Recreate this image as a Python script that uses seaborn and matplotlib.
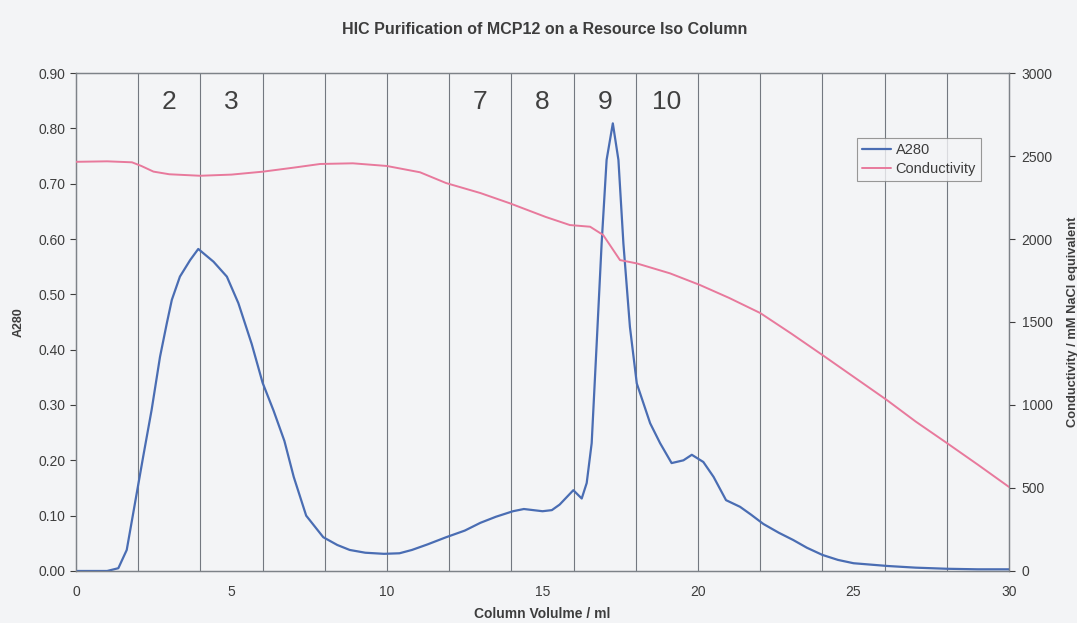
import numpy as np
import pandas as pd
import matplotlib
matplotlib.use("Agg")
import matplotlib.pyplot as plt
import seaborn as sns

# ---- data ----
a280_x = [0.0, 1.0, 1.36, 1.63, 1.95, 2.16, 2.43, 2.70, 2.92, 3.08, 3.34, 3.67, 3.93,
          4.42, 4.85, 5.22, 5.65, 6.0, 6.35, 6.7, 7.0, 7.4, 7.95, 8.4, 8.8,
          9.3, 9.9, 10.4, 10.8, 11.3, 11.9, 12.5, 13.0, 13.5, 14.05, 14.4, 14.7,
          15.0, 15.3, 15.55, 15.99, 16.26, 16.42, 16.58, 16.74, 16.9, 17.06, 17.26,
          17.44, 17.6, 17.81, 18.03, 18.46, 18.78, 19.15, 19.53, 19.8, 20.17, 20.5,
          20.9, 21.35, 21.7, 22.1, 22.6, 23.06, 23.5, 24.0, 24.5, 25.0, 26.1, 27.0,
          28.0, 29.0, 30.0]
a280_y = [0.0, 0.0, 0.005, 0.038, 0.14, 0.207, 0.291, 0.387, 0.448, 0.49, 0.532, 0.562, 0.582,
          0.559, 0.532, 0.484, 0.41, 0.34, 0.29, 0.235, 0.17, 0.10, 0.061, 0.047, 0.038,
          0.033, 0.031, 0.032, 0.038, 0.048, 0.061, 0.073, 0.087, 0.098, 0.108, 0.112, 0.110,
          0.108, 0.110, 0.120, 0.146, 0.131, 0.159, 0.231, 0.41, 0.592, 0.743, 0.809,
          0.743, 0.592, 0.441, 0.339, 0.267, 0.231, 0.195, 0.20, 0.21, 0.197, 0.17,
          0.128, 0.116, 0.102, 0.085, 0.069, 0.056, 0.042, 0.029, 0.020, 0.014, 0.009, 0.006,
          0.004, 0.003, 0.003]

cond_x = [0.0, 1.0, 1.8, 2.1, 2.49, 3.0, 3.99, 5.0, 6.02, 7.0, 7.85, 8.9, 9.99,
          11.06, 11.9, 13.0, 13.95, 15.1, 15.88, 16.53, 16.95, 17.49, 18.03,
          19.1, 20.06, 21.0, 22.0, 23.0, 24.0, 25.0, 26.07, 27.0, 28.0, 29.0, 30.0]
cond_y = [2465, 2468, 2462, 2440, 2406, 2390, 2381, 2388, 2406, 2430, 2452, 2456, 2440,
          2402, 2337, 2277, 2215, 2133, 2084, 2074, 2024, 1873, 1853,
          1793, 1723, 1645, 1554, 1430, 1301, 1170, 1030, 900, 771, 640, 506]

fraction_edges = [2, 4, 6, 8, 10, 12, 14, 16, 18, 20, 22, 24, 26, 28]
fraction_labels = ["2", "3", "7", "8", "9", "10"]
fraction_centers = [3, 5, 13, 15, 17, 19]

title = "HIC Purification of MCP12 on a Resource Iso Column"
xlabel = "Column Volulme / ml"
ylabel_left = "A280"
ylabel_right = "Conductivity / mM NaCl equivalent"

# ---- plotting ----
sns.set_theme(style="white")
plt.rcParams['font.family'] = ['Liberation Sans', 'DejaVu Sans']

bg = "#f3f4f6"
fig = plt.figure(figsize=(10.77, 6.23), dpi=100, facecolor=bg)
ax = fig.add_axes([0.0706, 0.0835, 0.8663, 0.7993])
ax.set_facecolor(bg)
ax2 = ax.twinx()

blue = "#4a6db3"
pink = "#e8799c"

df_a = pd.DataFrame({"x": a280_x, "y": a280_y})
df_c = pd.DataFrame({"x": cond_x, "y": cond_y})

for e in fraction_edges:
    ax.axvline(e, color="#737880", lw=0.8, zorder=1)

sns.lineplot(data=df_a, x="x", y="y", ax=ax, color=blue, lw=1.6, label="A280", legend=False, zorder=3)
sns.lineplot(data=df_c, x="x", y="y", ax=ax2, color=pink, lw=1.4, label="Conductivity", legend=False, zorder=3)

ax.set_xlim(0, 30)
ax.set_ylim(0, 0.9)
ax2.set_ylim(0, 3000)
ax.set_xticks([0, 5, 10, 15, 20, 25, 30])
ax.set_yticks(np.arange(0, 0.91, 0.1))
ax.set_yticklabels([f"{v:.2f}" for v in np.arange(0, 0.91, 0.1)])
ax2.set_yticks(range(0, 3001, 500))

tc = "#3d3d3d"
for a in (ax, ax2):
    a.tick_params(axis="both", colors=tc, labelsize=10, length=4, width=0.8, direction="out")
    for s in a.spines.values():
        s.set_color("#7d8288")
        s.set_linewidth(0.9)
ax.tick_params(axis="x", pad=6)
ax2.tick_params(axis="y", pad=5)

ax.set_xlabel(xlabel, fontsize=10, fontweight="bold", color=tc, labelpad=6)
ax.set_ylabel(ylabel_left, fontsize=9, fontweight="bold", color=tc, labelpad=10)
ax2.set_ylabel(ylabel_right, fontsize=9.3, fontweight="bold", color=tc, labelpad=10)

for lab, c in zip(fraction_labels, fraction_centers):
    ax.text(c, 0.848, lab, ha="center", va="center", fontsize=19, color="#404040")

fig.suptitle(title, x=0.506, y=0.965, fontsize=11.5, fontweight="bold", color=tc)

h1, l1 = ax.get_legend_handles_labels()
h2, l2 = ax2.get_legend_handles_labels()
leg = ax2.legend(h1 + h2, l1 + l2, loc="upper left", bbox_to_anchor=(0.837, 0.87),
                 fontsize=10.5, frameon=True, fancybox=False, handlelength=2.0,
                 handletextpad=0.3, borderpad=0.35, labelspacing=0.35, borderaxespad=0)
leg.get_frame().set_edgecolor("#808080")
leg.get_frame().set_facecolor(bg)
leg.get_frame().set_linewidth(0.8)
for t in leg.get_texts():
    t.set_color(tc)

fig.savefig("out.png", dpi=100, facecolor=bg)
